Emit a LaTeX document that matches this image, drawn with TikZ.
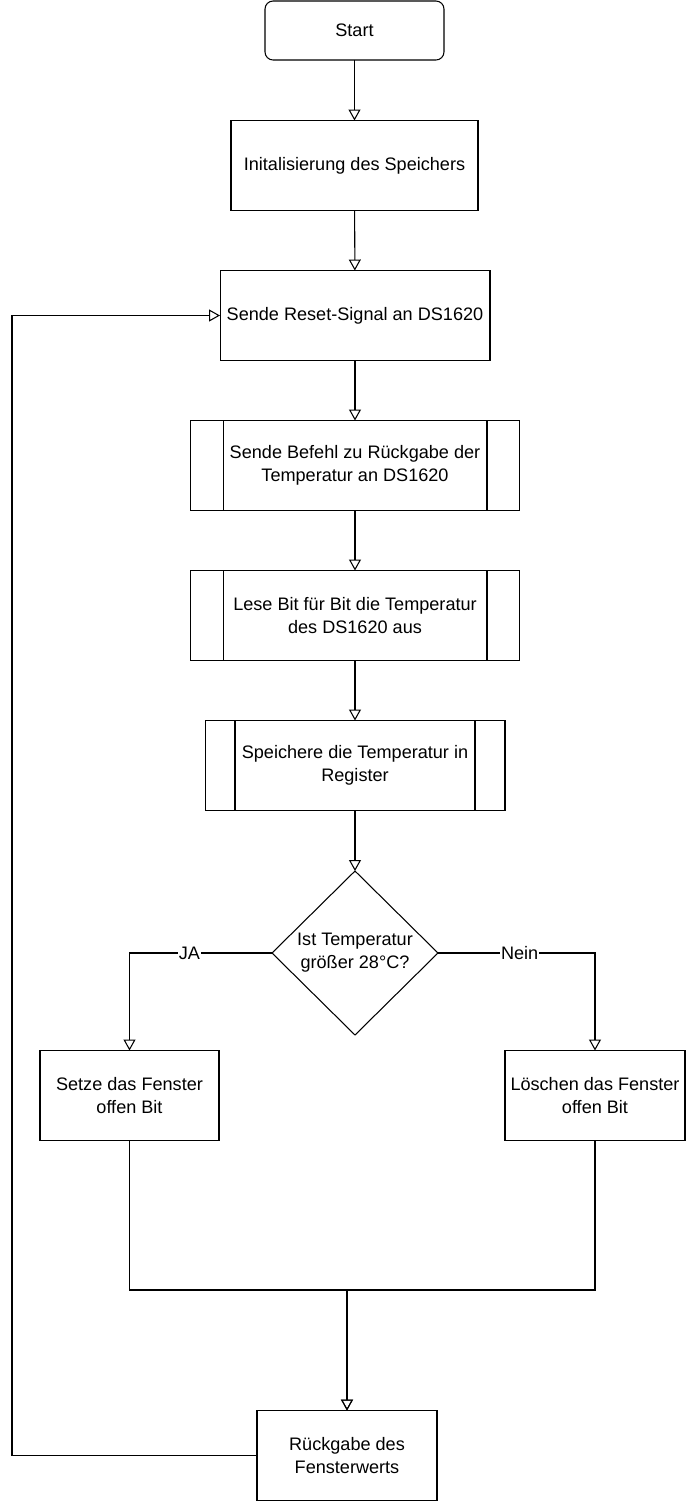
\documentclass[tikz,border=0pt]{standalone}
\usepackage{fontspec}
\setmainfont{Liberation Sans}
\usetikzlibrary{arrows.meta,shapes.geometric}

\tikzset{
  box/.style={draw, inner sep=0pt, outer sep=0pt, align=center, minimum height=1.8cm,
    font=\fontsize{10.3}{13}\selectfont},
  subproc/.style={box, path picture={
    \draw ([xshift=#1]path picture bounding box.north west) -- ([xshift=#1]path picture bounding box.south west);
    \draw ([xshift=-#1]path picture bounding box.north east) -- ([xshift=-#1]path picture bounding box.south east);}},
  subproc/.default=0.66cm,
  decide/.style={draw, diamond, inner sep=0pt, outer sep=0pt, align=center,
    minimum width=3.32cm, minimum height=3.28cm, font=\fontsize{10.3}{13}\selectfont},
  arr/.style={-{Triangle[open,length=0.22cm,width=0.24cm]}},
  lbl/.style={fill=white, inner sep=0.5pt, font=\fontsize{10.3}{13}\selectfont}
}

\begin{document}
\begin{tikzpicture}[x=0.02cm, y=-0.02cm, line width=0.6pt]

\useasboundingbox (0,0) rectangle (686,1502);

\node[box, rounded corners=0.16cm, minimum width=3.58cm, minimum height=1.18cm] (start) at (354.5,30.5) {Start};
\node[box, minimum width=4.94cm] (init) at (354.5,165.5) {Initalisierung des Speichers};
\node[box, minimum width=5.4cm] (reset) at (355,315.5) {Sende Reset-Signal an DS1620};
\node[subproc, minimum width=6.6cm] (befehl) at (355,465.5) {Sende Befehl zu Rückgabe der\\Temperatur an DS1620};
\node[subproc, minimum width=6.6cm] (lese) at (355,615.5) {Lese Bit für Bit die Temperatur\\des DS1620 aus};
\node[subproc=0.6cm, minimum width=6cm] (speicher) at (355,765.5) {Speichere die Temperatur in\\Register};
\node[decide] (temp) at (355,953) {Ist Temperatur\\größer 28°C?};
\node[box, minimum width=3.58cm] (setze) at (129.5,1095.5) {Setze das Fenster\\offen Bit};
\node[box, minimum width=3.6cm] (loeschen) at (595,1095.5) {Löschen das Fenster\\offen Bit};
\node[box, minimum width=3.6cm] (rueck) at (347,1455.5) {Rückgabe des\\Fensterwerts};

\coordinate (merge) at (347,1290);
\coordinate (lft) at (12,316);

\draw[arr] (start) -- (init);
\draw[arr] (init) -- (reset);
\draw[arr] (reset) -- (befehl);
\draw[arr] (befehl) -- (lese);
\draw[arr] (lese) -- (speicher);
\draw[arr] (speicher) -- (temp);

\draw[arr] (temp.west) -| node[lbl, pos=0.29] {JA} (setze.north);
\draw[arr] (temp.east) -| node[lbl, pos=0.26] {Nein} (loeschen.north);

\draw[arr] (setze.south) |- (merge) -- (rueck.north);
\draw[arr] (loeschen.south) |- (merge) -- (rueck.north);

\draw[arr] (rueck.west) -- (rueck.west -| lft) |- (reset.west);

\end{tikzpicture}
\end{document}
